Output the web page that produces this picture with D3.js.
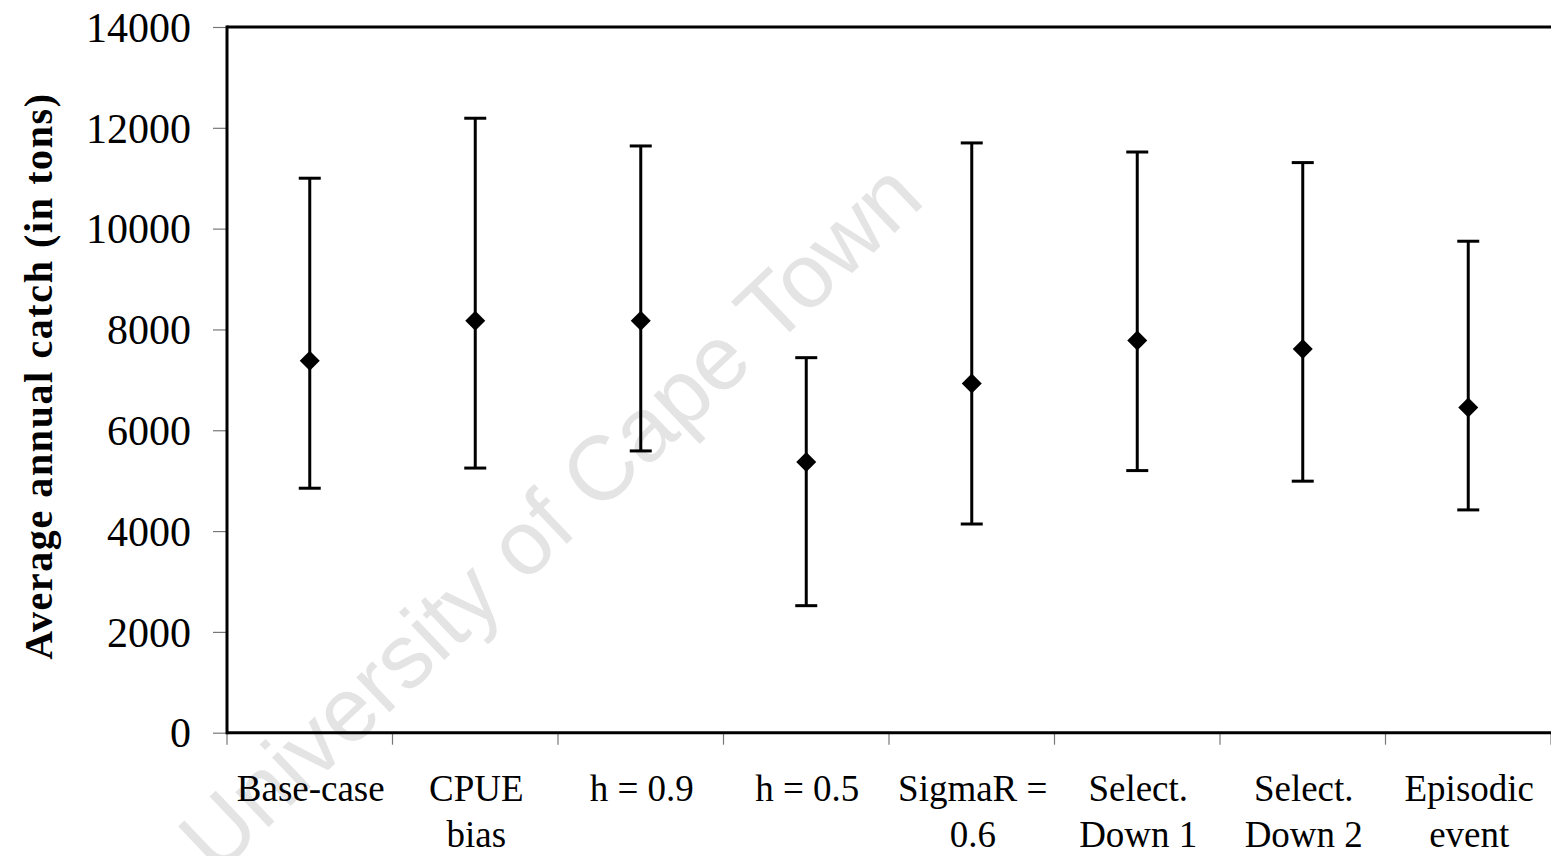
<!DOCTYPE html>
<html>
<head>
<meta charset="utf-8">
<script src="https://cdn.jsdelivr.net/npm/d3@7/dist/d3.min.js"></script>
<style>
  html, body { margin: 0; padding: 0; background: #fff; }
  svg { display: block; }
</style>
</head>
<body>
<svg id="chart" width="1551" height="856"></svg>
<script>
// Scenario labels (each entry is one or two lines)
const scenarios = [
  ["Base-case"],
  ["CPUE", "bias"],
  ["h = 0.9"],
  ["h = 0.5"],
  ["SigmaR =", "0.6"],
  ["Select.", "Down 1"],
  ["Select.", "Down 2"],
  ["Episodic", "event"]
];
// Average annual catch (tons) with lower / upper bounds
const meanCatch  = [7380, 8170, 8170, 5370, 6930, 7780, 7610, 6450];
const lowerCatch = [4850, 5250, 5590, 2520, 4140, 5200, 4990, 4420];
const upperCatch = [11000, 12190, 11640, 7440, 11700, 11520, 11310, 9750];
const yTicks = [0, 2000, 4000, 6000, 8000, 10000, 12000, 14000];

const svg = d3.select("#chart");
const margin = { left: 227, right: 0, top: 27, bottom: 123 };
const W = 1551, H = 856;

const x = d3.scaleBand()
  .domain(d3.range(scenarios.length))
  .range([margin.left + 1, W + 1])
  .padding(0);

const y = d3.scaleLinear()
  .domain([0, 14000])
  .range([H - margin.bottom - 0.3, margin.top]);

const serif = "'Liberation Serif', 'Times New Roman', serif";

// Watermark
svg.append("text")
  .attr("transform", "translate(555,522) rotate(-43.5)")
  .attr("text-anchor", "middle")
  .attr("dominant-baseline", "middle")
  .attr("font-family", "'Liberation Sans', Arial, sans-serif")
  .attr("font-size", 91)
  .attr("fill", "#e4e4e4")
  .text("University of Cape Town");

// Y axis
const yAxis = d3.axisLeft(y)
  .tickValues(yTicks)
  .tickSize(14)
  .tickPadding(22)
  .tickFormat(d3.format("d"));

const gy = svg.append("g")
  .attr("transform", `translate(${margin.left},0)`)
  .call(yAxis);
gy.select(".domain").remove();
gy.selectAll(".tick line").attr("stroke", "#777").attr("stroke-width", 1.2);
gy.selectAll(".tick text")
  .attr("font-family", serif)
  .attr("font-size", 42)
  .attr("fill", "#000")
  .attr("dy", "0.34em");

// X axis (ticks at band edges, labels centred in bands)
const edges = d3.range(scenarios.length + 1).map(i => x.range()[0] + i * x.bandwidth() - 1);
svg.append("g").selectAll("line")
  .data(edges)
  .join("line")
  .attr("x1", d => d).attr("x2", d => d)
  .attr("y1", y(0)).attr("y2", y(0) + 12)
  .attr("stroke", "#777").attr("stroke-width", 1.2);

const labels = svg.append("g").selectAll("text")
  .data(scenarios)
  .join("text")
  .attr("font-family", serif)
  .attr("font-size", 37)
  .attr("fill", "#000")
  .attr("text-anchor", "middle")
  .attr("x", (d, i) => x(i) + x.bandwidth() / 2)
  .attr("y", 801);
labels.selectAll("tspan")
  .data(d => d)
  .join("tspan")
  .attr("x", function () { return this.parentNode.getAttribute("x"); })
  .attr("dy", (d, j) => j === 0 ? 0 : 46)
  .text(d => d);

// Plot frame: left, bottom and top edges
const frame = svg.append("g").attr("stroke", "#000").attr("stroke-width", 3).attr("fill", "none");
frame.append("line").attr("x1", margin.left).attr("x2", margin.left)
  .attr("y1", y(14000) - 1.5).attr("y2", y(0) + 1.5);
frame.append("line").attr("x1", margin.left).attr("x2", W)
  .attr("y1", y(0)).attr("y2", y(0));
frame.append("line").attr("x1", margin.left).attr("x2", W)
  .attr("y1", y(14000)).attr("y2", y(14000));

// Error bars
const data = meanCatch.map((m, i) => ({ i, m, lo: lowerCatch[i], hi: upperCatch[i] }));
const cx = d => x(d.i) + x.bandwidth() / 2 - 1;
const bars = svg.append("g").attr("stroke", "#000").attr("stroke-width", 3);
bars.selectAll("line.v").data(data).join("line").attr("class", "v")
  .attr("x1", cx).attr("x2", cx)
  .attr("y1", d => y(d.lo)).attr("y2", d => y(d.hi));
bars.selectAll("line.top").data(data).join("line").attr("class", "top")
  .attr("x1", d => cx(d) - 11).attr("x2", d => cx(d) + 11)
  .attr("y1", d => y(d.hi)).attr("y2", d => y(d.hi));
bars.selectAll("line.bot").data(data).join("line").attr("class", "bot")
  .attr("x1", d => cx(d) - 11).attr("x2", d => cx(d) + 11)
  .attr("y1", d => y(d.lo)).attr("y2", d => y(d.lo));

// Mean markers (diamonds)
svg.append("g").selectAll("path")
  .data(data)
  .join("path")
  .attr("d", d3.symbol(d3.symbolSquare, 200))
  .attr("transform", d => `translate(${cx(d)},${y(d.m)}) rotate(45)`)
  .attr("fill", "#000");

// Y axis title
svg.append("text")
  .attr("transform", "translate(52,376) rotate(-90)")
  .attr("text-anchor", "middle")
  .attr("font-family", serif)
  .attr("font-weight", "bold")
  .attr("font-size", 40)
  .attr("letter-spacing", 1.6)
  .attr("fill", "#000")
  .text("Average annual catch (in tons)");
</script>
</body>
</html>
